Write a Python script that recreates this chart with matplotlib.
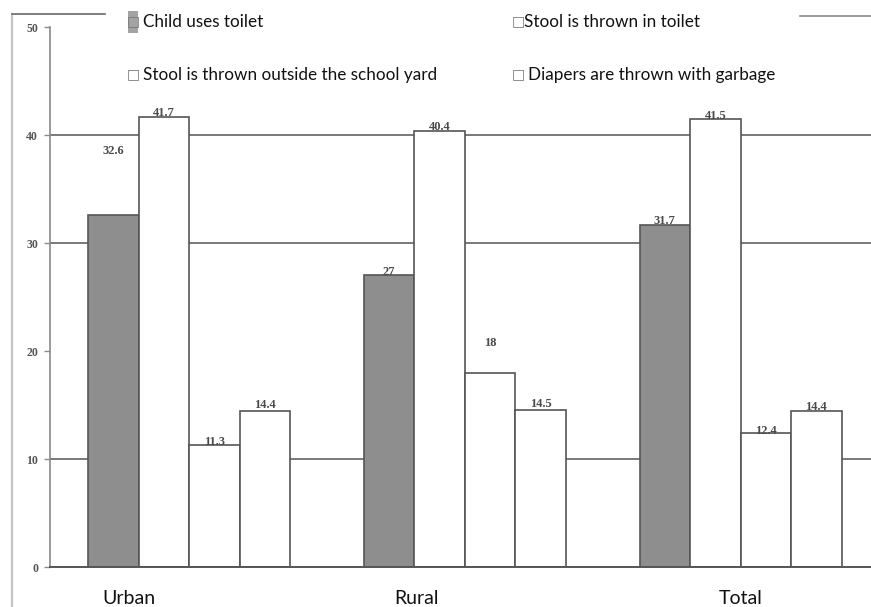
import matplotlib
matplotlib.use("Agg")
import matplotlib.pyplot as plt
import numpy as np
from matplotlib.lines import Line2D
from matplotlib.patches import Rectangle

categories = ["Urban", "Rural", "Total"]
series_names = ["Child uses toilet", "Stool is thrown in toilet",
                "Stool is thrown outside the school yard",
                "Diapers are thrown with garbage"]
child_uses_toilet = [32.6, 27, 31.7]
stool_in_toilet = [41.7, 40.4, 41.5]
stool_outside_yard = [11.3, 18, 12.4]
diapers_with_garbage = [14.4, 14.5, 14.4]
value_text = [["32.6", "27", "31.7"], ["41.7", "40.4", "41.5"],
              ["11.3", "18", "12.4"], ["14.4", "14.5", "14.4"]]
y_ticks = [0, 10, 20, 30, 40, 50]
y_tick_labels = ["0", "10", "20", "30", "40", "50"]
grid_values = [10, 30, 40]

W, H = 871, 607
fig = plt.figure(figsize=(W / 100, H / 100), dpi=100)
fig.patch.set_facecolor("white")

def fx(px):
    return px / W

def fy(py):
    return 1 - py / H

# scan frame remnants
fig.add_artist(Line2D([fx(12), fx(12)], [fy(14), fy(607)], color="#c4c4c4", lw=1.6))
fig.add_artist(Line2D([fx(12), fx(105)], [fy(14), fy(14)], color="#6a6a6a", lw=1.2))
fig.add_artist(Line2D([fx(800), fx(871)], [fy(16), fy(16)], color="#8a8a8a", lw=1.2))

ax = fig.add_axes([fx(50), fy(567), fx(871) - fx(50), fy(27) - fy(567)])
ax.set_ylim(0, 50)
unit = 275.75
ax.set_xlim((50 - 189) / unit, (871 - 189) / unit)

data = [child_uses_toilet, stool_in_toilet, stool_outside_yard, diapers_with_garbage]
colors = ["#8e8e8e", "white", "white", "white"]
x = np.arange(len(categories))
w = 50.5 / unit

for gv in grid_values:
    ax.axhline(gv, color="#6e6e6e", lw=1.3, zorder=1)

# label offsets in points (scan placement)
label_offsets = [[42, -2, -2], [-2, -2, -2], [-2, 17, -3], [0, 0, -1]]
serif = ["Liberation Serif", "DejaVu Serif"]
for i, vals in enumerate(data):
    pos = x + (i - 1.5) * w
    ax.bar(pos, vals, width=w, color=colors[i], edgecolor="#555555",
           linewidth=1.2, zorder=2)
    for j, v in enumerate(vals):
        ax.annotate(value_text[i][j], (pos[j], v), xytext=(0, label_offsets[i][j]),
                    textcoords="offset points", ha="center", va="bottom",
                    fontsize=9, family=serif, color="#4a4a4a", fontweight="bold",
                    zorder=3)

for s in ["top", "right"]:
    ax.spines[s].set_visible(False)
ax.spines["left"].set_color("#8a8a8a")
ax.spines["left"].set_linewidth(1.2)
ax.spines["bottom"].set_color("#555555")
ax.spines["bottom"].set_linewidth(1.4)
ax.set_yticks(y_ticks)
ax.set_yticklabels(y_tick_labels, family=serif, fontsize=8.5, color="#555555",
                   fontweight="bold")
ax.tick_params(axis="y", length=4.5, width=1, color="#8a8a8a", pad=4)
ax.set_xticks(x)
ax.set_xticklabels([])
ax.tick_params(axis="x", length=0)

# category labels (placed as in the scanned figure, shifted from group centres)
cat_shift = [-60, -48, 0]
for j, c in enumerate(categories):
    ax.annotate(c, (x[j], 0), xytext=(cat_shift[j] * 0.72, -22.5),
                textcoords="offset points", ha="center", va="center",
                fontsize=14, family=["Lato", "DejaVu Sans"], color="#111111",
                annotation_clip=False)

# legend (as in reference: text with box glyphs)
leg_font = ["Lato", "DejaVu Sans"]
box_font = ["DejaVu Sans"]
fig.add_artist(Rectangle((fx(128), fy(33)), fx(10), fy(11) - fy(33),
                         transform=fig.transFigure, facecolor="#a3a3a3",
                         edgecolor="none"))
for bx, by in [(127, 21), (127, 74), (512, 21), (512, 74)]:
    fig.text(fx(bx), fy(by), "\u25a1", family=box_font, fontsize=10,
             va="center", ha="left", color="#777777")
fig.text(fx(143), fy(22), series_names[0], family=leg_font, fontsize=12.3,
         va="center", ha="left", color="#111111")
fig.text(fx(524), fy(22), series_names[1], family=leg_font,
         fontsize=12.3, va="center", ha="left", color="#111111")
fig.text(fx(143), fy(75), series_names[2], family=leg_font,
         fontsize=12.3, va="center", ha="left", color="#111111")
fig.text(fx(528), fy(75), series_names[3], family=leg_font,
         fontsize=12.3, va="center", ha="left", color="#111111")

fig.savefig("out.png", dpi=100)
